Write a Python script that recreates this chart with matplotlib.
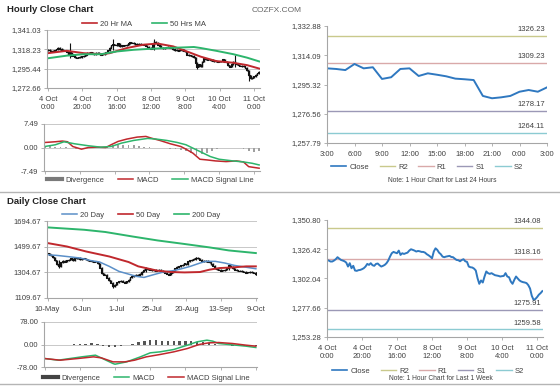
import numpy as np
import matplotlib
matplotlib.use("Agg")
import matplotlib.pyplot as plt
from matplotlib.lines import Line2D

plt.rcParams['font.family'] = ['Liberation Sans', 'DejaVu Sans']

# ---------------- data ----------------
# hourly closes, 4 Oct 0:00 .. 11 Oct 3:00 (124 bars, weekends skipped)
hourly_close = [1317.5, 1317.0, 1316.2, 1316.2, 1317.0, 1318.1, 1319.8, 1318.6, 1317.5, 1317.0,
                1316.4, 1315.3, 1312.0, 1314.8, 1310.6, 1312.6, 1308.7, 1308.4, 1309.0, 1309.2,
                1309.8, 1310.6, 1312.0, 1314.2, 1313.4, 1314.8, 1313.1, 1312.6, 1314.2, 1314.5,
                1313.1, 1312.0, 1312.6, 1313.4, 1314.8, 1317.0, 1320.3, 1323.1, 1324.2, 1323.6,
                1323.1, 1325.3, 1321.7, 1323.1, 1322.5, 1323.1, 1323.6, 1325.3, 1326.4, 1325.9,
                1325.3, 1324.5, 1325.0, 1324.7, 1324.2, 1324.2, 1323.6, 1322.3, 1321.4, 1320.3,
                1318.9, 1324.5, 1327.2, 1325.9, 1323.6, 1322.3, 1320.3, 1319.8, 1320.3, 1320.6,
                1320.9, 1320.0, 1319.8, 1318.6, 1317.5, 1317.3, 1316.4, 1317.5, 1318.1, 1316.4,
                1315.9, 1312.0, 1311.4, 1311.2, 1310.3, 1308.7, 1302.3, 1297.6, 1300.4, 1298.7,
                1303.7, 1307.9, 1306.5, 1305.9, 1306.5, 1305.6, 1304.8, 1304.5, 1304.2, 1303.7,
                1304.0, 1304.2, 1306.5, 1303.7, 1303.1, 1299.5, 1297.6, 1300.9, 1303.7, 1302.0,
                1300.4, 1299.5, 1299.0, 1298.7, 1298.2, 1296.5, 1293.7, 1287.6, 1284.3, 1284.9,
                1286.5, 1288.5, 1289.8, 1291.5]
hourly_wick_idx = [13, 38, 62, 87, 109, 117]
hourly_wick_hi = [1326.0, 1330.0, 1331.0, 1302.0, 1311.0, 1290.0]
hourly_wick_lo = [1308.0, 1318.0, 1318.0, 1294.5, 1298.0, 1281.5]
hourly_ticks = [0, 20, 40, 60, 80, 100, 120]
hourly_ticklabels = ['4 Oct\n0:00', '4 Oct\n20:00', '7 Oct\n16:00', '8 Oct\n12:00',
                     '9 Oct\n8:00', '10 Oct\n4:00', '11 Oct\n0:00']
hourly_yticks = [1272.66, 1295.44, 1318.23, 1341.03]

ma20_idx = [0, 11, 21, 31, 36, 46, 56, 64, 73, 81, 89, 98, 108, 116, 123]
ma20_val = [1313.7, 1316.5, 1313.7, 1312.5, 1313.7, 1319.8, 1323.8, 1325.0, 1321.7,
            1315.7, 1309.6, 1304.4, 1302.4, 1299.6, 1295.6]
ma50_idx = [0, 11, 21, 31, 40, 50, 60, 69, 79, 85, 89, 98, 108, 116, 123]
ma50_val = [1307.7, 1310.8, 1312.5, 1312.5, 1315.7, 1317.7, 1318.9, 1319.8, 1320.5,
            1321.0, 1319.8, 1316.5, 1312.5, 1308.4, 1304.0]

hmacd_idx = [0, 6, 10, 13, 16, 21, 25, 30, 35, 38, 42, 47, 53, 58, 61, 66, 72, 78, 81,
             85, 89, 93, 98, 104, 110, 114, 117, 123]
hmacd_val = [1.6, 1.83, 2.05, 1.83, 0.32, -0.53, 0.0, 0.11, 0.0, 0.87, 1.93, 2.68, 3.32,
             3.53, 3.0, 2.25, 1.19, 0.32, -0.53, -1.81, -3.74, -3.96, -4.28, -4.49, -4.28,
             -4.6, -6.1, -6.6]
hsig_idx = [0, 6, 11, 17, 25, 32, 38, 44, 51, 59, 64, 70, 76, 81, 85, 89, 95, 100, 108,
            114, 119, 123]
hsig_val = [0.32, 0.87, 1.83, 1.19, 0.55, 0.11, 0.32, 1.4, 2.25, 2.89, 2.68, 2.25, 1.6,
            0.87, -0.21, -1.28, -2.89, -3.74, -4.28, -4.6, -5.03, -5.56]
hdiv_idx = list(range(0, 124, 3))
hdiv_val = [0.3, 0.4, 0.3, 0.2, 0.1, -0.3, -0.4, -0.3, -0.2, -0.1, 0.0, 0.1, 0.4, 0.7,
            0.8, 0.9, 0.8, 0.7, 0.5, 0.3, 0.1, -0.1, -0.2, -0.3, -0.4, -0.5, -0.7, -1.2,
            -1.8, -2.4, -2.2, -1.6, -1.0, -0.6, -0.3, -0.2, -0.2, -0.3, -0.4, -1.0, -1.3, -1.2]

# last 24 hours, 3:00 .. 3:00
day_close = [1305.7, 1305.3, 1304.6, 1308.5, 1305.7, 1306.4, 1298.9, 1300.0, 1305.3, 1305.7,
             1300.8, 1302.5, 1301.6, 1300.6, 1299.1, 1298.7, 1298.2, 1288.0, 1286.5, 1287.1,
             1288.0, 1290.7, 1291.8, 1290.7, 1293.5]
day_ticklabels = ['3:00', '6:00', '9:00', '12:00', '15:00', '18:00', '21:00', '0:00', '3:00']
day_yticks = [1257.79, 1276.56, 1295.32, 1314.09, 1332.88]
day_pivots = [1326.23, 1309.23, 1278.17, 1264.11]
week_yticks = [1253.28, 1277.66, 1302.04, 1326.42, 1350.80]
week_pivots = [1344.08, 1318.16, 1275.91, 1259.58]
pivot_names = ['R2', 'R1', 'S1', 'S2']

# daily closes, 10 May .. 9 Oct
daily_close = [1451, 1440, 1435, 1418, 1395, 1368, 1352, 1380, 1392, 1385, 1395, 1402, 1410,
               1398, 1417, 1412, 1415, 1405, 1408, 1413, 1405, 1398, 1392, 1387, 1385, 1390,
               1375, 1340, 1298, 1285, 1287, 1262, 1245, 1225, 1198, 1210, 1228, 1236, 1241,
               1232, 1224, 1238, 1249, 1268, 1275, 1282, 1287, 1284, 1292, 1311, 1325, 1337,
               1330, 1324, 1322, 1326, 1317, 1320, 1324, 1315, 1311, 1300, 1295, 1287, 1300,
               1316, 1337, 1345, 1350, 1358, 1363, 1372, 1368, 1388, 1395, 1400, 1408, 1415,
               1410, 1400, 1392, 1388, 1393, 1386, 1382, 1368, 1355, 1336, 1328, 1324, 1318,
               1320, 1324, 1340, 1360, 1348, 1335, 1326, 1322, 1318, 1316, 1312, 1308, 1300,
               1307, 1309, 1305, 1303, 1292]
daily_wick_idx = [6, 34, 51, 77, 94, 108]
daily_wick_hi = [1395, 1215, 1345, 1424, 1368, 1310]
daily_wick_lo = [1338, 1182, 1310, 1398, 1322, 1286]
daily_ticks = [0, 18, 36, 54, 72, 90, 108]
daily_ticklabels = ['10-May', '6-Jun', '1-Jul', '25-Jul', '20-Aug', '13-Sep', '9-Oct']
daily_yticks = [1109.67, 1304.67, 1499.67, 1694.67]

d20_idx = [0, 5, 10, 17, 22, 27, 32, 37, 43, 46, 50, 55, 60, 65, 69, 74, 79, 82, 87, 92, 97, 108]
d20_val = [1438, 1433, 1425, 1413, 1395, 1383, 1350, 1312, 1287, 1274, 1266, 1287, 1307,
           1317, 1330, 1350, 1375, 1388, 1388, 1375, 1357, 1332]
d50_idx = [0, 10, 20, 32, 42, 47, 51, 57, 64, 71, 79, 84, 89, 96, 103, 108]
d50_val = [1527, 1501, 1463, 1425, 1383, 1350, 1337, 1317, 1307, 1304, 1307, 1325, 1337,
           1342, 1350, 1350]
d200_idx = [0, 19, 30, 44, 57, 71, 84, 94, 108]
d200_val = [1646, 1628, 1611, 1577, 1547, 1520, 1494, 1471, 1451]

dmacd_idx = [0, 7, 19, 26, 35, 36, 42, 49, 54, 59, 66, 73, 78, 83, 86, 89, 96, 103, 108]
dmacd_val = [-48.6, -54.4, -42.8, -37.0, -66.0, -68.3, -60.2, -42.8, -28.9, -25.5, -17.4,
             -2.3, 9.3, 15.0, 11.6, 3.5, -1.2, -5.8, -10.4]
dsig_idx = [0, 8, 17, 25, 29, 35, 41, 46, 52, 59, 66, 73, 79, 84, 89, 96, 103, 108]
dsig_val = [-48.6, -54.4, -48.6, -42.8, -46.3, -60.2, -60.2, -54.4, -42.8, -34.7, -25.5,
            -13.9, 0.0, 5.8, 6.9, 3.5, -2.3, -5.8]
ddiv_idx = list(range(0, 109, 3))
ddiv_val = [0, -1, -1, -1, 0, 1, 2, 3, 4, 2, -5, -9, -10, -6, -3, 2, 7, 11, 14, 14, 13, 13,
            12, 12, 11, 12, 10, 8, 6, 3, -2, -3, -4, -4, -4, -4, -5]

# ---------------- styling ----------------
W, H = 560, 386
RED = '#c0282d'
GREEN = '#2db56c'
BLUE = '#2f78c0'
GRAY = '#a6a6a6'
TXT = '#404040'
PIV_COLORS = ['#c9c98c', '#d9a9a9', '#9b98b6', '#8ccbd2']

fig = plt.figure(figsize=(5.6, 3.86), dpi=100)
fig.patch.set_facecolor('white')


def panel(x0, y0, x1, y1):
    ax = fig.add_axes([x0 / W, 1 - y1 / H, (x1 - x0) / W, (y1 - y0) / H])
    ax.spines['top'].set_visible(False)
    ax.spines['right'].set_visible(False)
    for s in ['left', 'bottom']:
        ax.spines[s].set_color(GRAY)
        ax.spines[s].set_linewidth(0.8)
    ax.tick_params(labelsize=5.5, colors=GRAY, labelcolor=TXT, length=2.5, width=0.6, pad=1.5)
    ax.tick_params(axis='x', pad=3)
    ax.set_axisbelow(True)
    return ax


def price_ticks(ax, ticks, fmt):
    ax.set_ylim(ticks[0], ticks[-1])
    ax.set_yticks(ticks)
    ax.set_yticklabels([fmt.format(t) for t in ticks])


def ohlc(ax, close, widx, whi, wlo, ext):
    close = np.asarray(close, dtype=float)
    x = np.arange(len(close))
    prev = np.concatenate([[close[0]], close[:-1]])
    lo = np.minimum(prev, close)
    hi = np.maximum(prev, close)
    ax.vlines(x, lo - ext, hi + ext, color='#111111', lw=1.0)
    ax.plot(x, close, drawstyle='steps-mid', color='#111111', lw=0.8)
    ax.vlines(widx, wlo, whi, color='#111111', lw=0.8)


def legend_row(handles, labels, cx, cy, spacing=1.5, hl=2.0):
    leg = fig.legend(handles, labels, loc='center', bbox_to_anchor=(cx / W, 1 - cy / H),
                     ncol=len(handles), frameon=False, fontsize=5.5, handlelength=hl,
                     handletextpad=0.4, columnspacing=spacing, borderaxespad=0, borderpad=0)
    for t in leg.get_texts():
        t.set_color(TXT)


def pivot_lines(ax, pivots, xmax, ylo, yhi):
    for v, c in zip(pivots, PIV_COLORS):
        ax.axhline(v, color=c, lw=1.0)
        ax.text(xmax - 0.01 * xmax, v + (yhi - ylo) * 0.025, '%.2f' % v, ha='right',
                va='bottom', fontsize=5.5, color=TXT)


# titles and separators
fig.text(7 / W, 1 - 10 / H, 'Hourly Close Chart', fontsize=6.8, fontweight='bold',
         color='#222222', va='center')
fig.text(7 / W, 1 - 202 / H, 'Daily Close Chart', fontsize=6.8, fontweight='bold',
         color='#222222', va='center')
fig.text(277 / W, 1 - 10 / H, 'COZFX.COM', fontsize=6, color='#666666', ha='center', va='center')
for yy in [192, 384]:
    fig.add_artist(Line2D([0, 1], [1 - yy / H, 1 - yy / H], color='#b5b5b5', lw=1.0))

# ---- hourly price ----
ax = panel(47, 30, 260, 88)
price_ticks(ax, hourly_yticks, '{:,.2f}')
ax.yaxis.grid(True, color='#c8c8c8', lw=0.7)
ohlc(ax, hourly_close, hourly_wick_idx, hourly_wick_hi, hourly_wick_lo, 0.7)
ax.plot(ma20_idx, ma20_val, color=RED, lw=1.4)
ax.plot(ma50_idx, ma50_val, color=GREEN, lw=1.4)
ax.set_xlim(-0.5, 123.5)
ax.set_xticks(hourly_ticks)
ax.set_xticklabels(hourly_ticklabels)
legend_row([Line2D([], [], color=RED, lw=1.2), Line2D([], [], color=GREEN, lw=1.2)],
           ['20 Hr MA', '50 Hrs MA'], 144, 24, spacing=2.6, hl=2.0)

# ---- hourly MACD ----
ax = panel(44, 124, 260, 171)
ax.bar(hdiv_idx, hdiv_val, width=1.0, color='#a0a0a0', lw=0)
ax.plot(hmacd_idx, hmacd_val, color=RED, lw=1.1)
ax.plot(hsig_idx, hsig_val, color=GREEN, lw=1.1)
ax.set_ylim(-7.49, 7.49)
ax.set_yticks([-7.49, 0, 7.49])
ax.set_yticklabels(['-7.49', '0.00', '7.49'])
ax.yaxis.grid(True, color='#c8c8c8', lw=0.7)
ax.set_xlim(-0.5, 123.5)
ax.set_xticks(hourly_ticks)
ax.set_xticklabels([])
legend_row([Line2D([], [], color='#7a7a7a', lw=3), Line2D([], [], color=RED, lw=1.1),
            Line2D([], [], color=GREEN, lw=1.1)],
           ['Divergence', 'MACD', 'MACD Signal Line'], 150, 180, spacing=1.8, hl=2.0)

# ---- last 24 hours ----
ax = panel(327, 26, 547, 143)
price_ticks(ax, day_yticks, '{:,.2f}')
pivot_lines(ax, day_pivots, 24, day_yticks[0], day_yticks[-1])
ax.plot(np.arange(len(day_close)), day_close, color=BLUE, lw=1.4)
ax.set_xlim(0, 24)
ax.set_xticks(np.arange(0, 25, 3))
ax.set_xticklabels(day_ticklabels)
handles = [Line2D([], [], color=BLUE, lw=1.2)] + [Line2D([], [], color=c, lw=1.0) for c in PIV_COLORS]
legend_row(handles, ['Close'] + pivot_names, 427, 167, spacing=1.4, hl=2.0)
fig.text(442 / W, 1 - 180 / H, 'Note: 1 Hour Chart for Last 24 Hours', fontsize=4.8,
         color=TXT, ha='center', va='center')

# ---- daily price ----
ax = panel(47, 221, 257, 298)
price_ticks(ax, daily_yticks, '{:.2f}')
ax.yaxis.grid(True, color='#c8c8c8', lw=0.7)
ohlc(ax, daily_close, daily_wick_idx, daily_wick_hi, daily_wick_lo, 4)
ax.plot(d20_idx, d20_val, color='#5b8fc8', lw=1.1)
ax.plot(d50_idx, d50_val, color=RED, lw=1.4)
ax.plot(d200_idx, d200_val, color=GREEN, lw=1.4)
ax.set_xlim(-0.3, 108.6)
ax.set_xticks(daily_ticks)
ax.set_xticklabels(daily_ticklabels)
legend_row([Line2D([], [], color='#5b8fc8', lw=1.1), Line2D([], [], color=RED, lw=1.2),
            Line2D([], [], color=GREEN, lw=1.2)],
           ['20 Day', '50 Day', '200 Day'], 141, 215, spacing=1.8, hl=2.0)

# ---- daily MACD ----
ax = panel(44, 322, 257, 367)
ax.bar(ddiv_idx, ddiv_val, width=1.2, color='#555555', lw=0)
ax.plot(dmacd_idx, dmacd_val, color=GREEN, lw=1.1)
ax.plot(dsig_idx, dsig_val, color=RED, lw=1.1)
ax.set_ylim(-78, 78)
ax.set_yticks([-78, 0, 78])
ax.set_yticklabels(['-78.00', '0.00', '78.00'])
ax.yaxis.grid(True, color='#c8c8c8', lw=0.7)
ax.set_xlim(-0.3, 108.6)
ax.set_xticks(daily_ticks)
ax.set_xticklabels([])
legend_row([Line2D([], [], color='#444444', lw=3), Line2D([], [], color=GREEN, lw=1.1),
            Line2D([], [], color=RED, lw=1.1)],
           ['Divergence', 'MACD', 'MACD Signal Line'], 146, 378, spacing=1.8, hl=2.0)

# ---- last week hourly ----
ax = panel(327, 220, 543, 337)
price_ticks(ax, week_yticks, '{:,.2f}')
pivot_lines(ax, week_pivots, 123.4, week_yticks[0], week_yticks[-1])
ax.plot(np.arange(len(hourly_close)), hourly_close, color=BLUE, lw=1.4)
ax.set_xlim(0, 123.4)
ax.set_xticks(hourly_ticks)
ax.set_xticklabels(hourly_ticklabels)
legend_row(handles, ['Close'] + pivot_names, 428, 371, spacing=1.4, hl=2.0)
fig.text(441 / W, 1 - 379 / H, 'Note: 1 Hour Chart for Last 1 Week', fontsize=4.8,
         color=TXT, ha='center', va='center')

fig.savefig('out.png', dpi=100)
